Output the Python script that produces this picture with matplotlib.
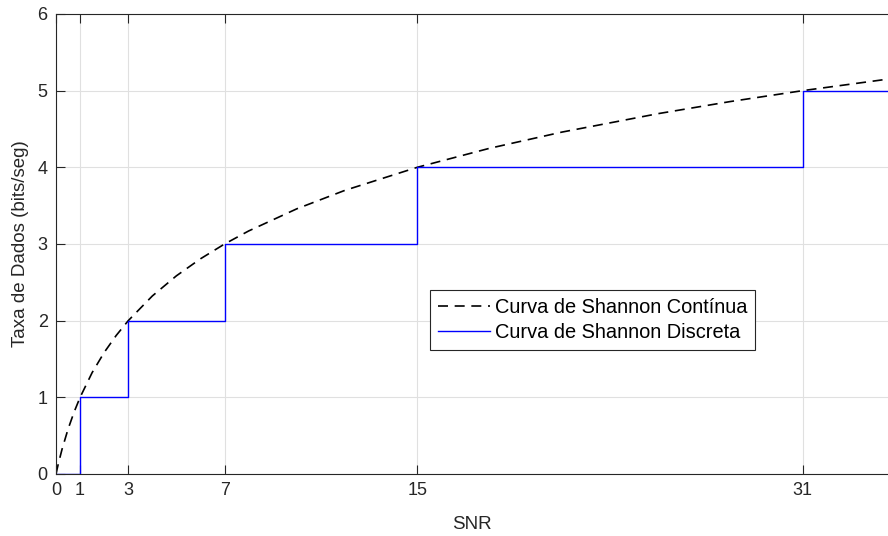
import matplotlib
matplotlib.use("Agg")
import matplotlib.pyplot as plt

# Continuous Shannon curve
snr_cont = [0, 0.05, 0.1, 0.25, 0.5, 0.75, 1, 1.5, 2, 2.5, 3, 4, 5, 6, 7, 8, 10, 12, 15, 18, 21, 25, 28, 31, 35]
rate_cont = [0, 0.07, 0.1375, 0.322, 0.585, 0.807, 1.0, 1.322, 1.585, 1.807, 2.0, 2.322, 2.585, 2.807,
             3.0, 3.17, 3.459, 3.70, 4.0, 4.248, 4.459, 4.70, 4.858, 5.0, 5.17]

# Discrete Shannon curve (step points)
snr_disc = [0, 1, 3, 7, 15, 31, 35]
rate_disc = [0, 1, 2, 3, 4, 5, 5]

xticks = [0, 1, 3, 7, 15, 31]
yticks = [0, 1, 2, 3, 4, 5, 6]

plt.rcParams['font.family'] = ['Liberation Sans', 'DejaVu Sans']

fig = plt.figure(figsize=(8.88, 5.36), dpi=100)
ax = fig.add_axes([56/888, 62/536, 1 - 56/888, 460/536])

ax.plot(snr_cont, rate_cont, color='black', linestyle=(0, (6, 4)), linewidth=1.2,
        label='Curva de Shannon Contínua')
ax.step(snr_disc, rate_disc, where='post', color='#0000ff', linewidth=1.0,
        label='Curva de Shannon Discreta')

ax.set_xlim(0, 34.55)
ax.set_ylim(0, 6)
ax.set_xticks(xticks)
ax.set_yticks(yticks)
ax.tick_params(direction='in', top=True, right=False, length=6.5, width=0.8,
               labelsize=13, colors='#262626', pad=6)
ax.grid(True, color='#e0e0e0', linewidth=0.8)
ax.set_axisbelow(True)
for s in ['left', 'bottom', 'top']:
    ax.spines[s].set_color('#262626')
    ax.spines[s].set_linewidth(0.8)
ax.spines['right'].set_visible(False)

ax.set_xlabel('SNR', fontsize=13.5, color='#262626', labelpad=12)
ax.set_ylabel('Taxa de Dados (bits/seg)', fontsize=13.5, color='#262626', labelpad=6)

leg = ax.legend(loc='lower left', bbox_to_anchor=(0.4495, 0.2696), borderaxespad=0,
                fontsize=14.4, frameon=True, fancybox=False, edgecolor='#262626',
                framealpha=1, handlelength=2.6, borderpad=0.4, labelspacing=0.32,
                handletextpad=0.25)
leg.get_frame().set_linewidth(0.8)

fig.savefig('out.png', dpi=100)
